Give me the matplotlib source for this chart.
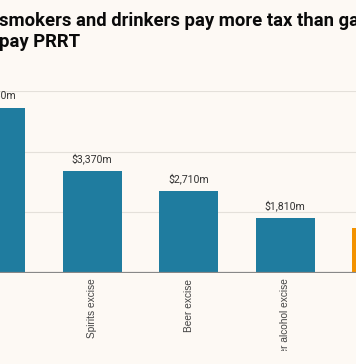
import matplotlib
matplotlib.use("Agg")
import matplotlib.pyplot as plt
from matplotlib.transforms import Bbox, TransformedBbox

# data
categories = ["Tobacco excise", "Spirits excise", "Beer excise",
              "Other alcohol excise", "PRRT"]
values = [5450, 3370, 2710, 1810, 1500]
value_labels = ["$5,450m", "$3,370m", "$2,710m", "$1,810m", "$1,500m"]
colors = ["#1f7c9f", "#1f7c9f", "#1f7c9f", "#1f7c9f", "#f39200"]
gridlines = [2000, 4000, 6000]

bg = "#fdf9f4"
W, H = 356, 364

fig = plt.figure(figsize=(W / 100, H / 100), dpi=100, facecolor=bg)
ax = fig.add_axes([0, 0.25, 1, 0.5], facecolor=bg)

x = list(range(len(categories)))
ax.bar(x, values, width=0.61, color=colors, zorder=2)

for i, v in enumerate(values):
    ax.text(i, v + 230, value_labels[i], ha="center", va="bottom",
            fontsize=7.6, color="#333333", family="Roboto", clip_on=False)

ax.set_xticks(x)
ax.set_xticklabels(categories, rotation=90, va="top", ha="center",
                   fontsize=7.3, color="#444444", family="Liberation Sans")
ax.tick_params(axis="x", length=0, pad=4)

ax.set_yticks(gridlines)
ax.yaxis.grid(True, color="#e4e0da", linewidth=0.8, zorder=0)
ax.tick_params(axis="y", left=False, labelleft=False)
ax.axhline(0, color="#888888", linewidth=1.6, zorder=3)

# limits last so the tick setters do not widen them
ax.set_xlim(0.0466, 3.732)
ax.set_ylim(0, 6000)
for sp in ax.spines.values():
    sp.set_visible(False)

# the original crop cuts the long tick labels short near the bottom
clip = TransformedBbox(Bbox([[0, 13 / H], [1, 1]]), fig.transFigure)
for lab in ax.get_xticklabels():
    lab.set_clip_box(clip)
    lab.set_clip_on(True)

fig.text(-1 / W, 1 - 26 / H, "smokers and drinkers pay more tax than gas companies",
         fontsize=13.3, fontweight="bold", family="Roboto", color="#0a0a0a",
         ha="left", va="baseline")
fig.text(-1 / W, 1 - 47 / H, "pay PRRT",
         fontsize=13.3, fontweight="bold", family="Roboto", color="#0a0a0a",
         ha="left", va="baseline")

fig.savefig("out.png", dpi=100, facecolor=bg)
